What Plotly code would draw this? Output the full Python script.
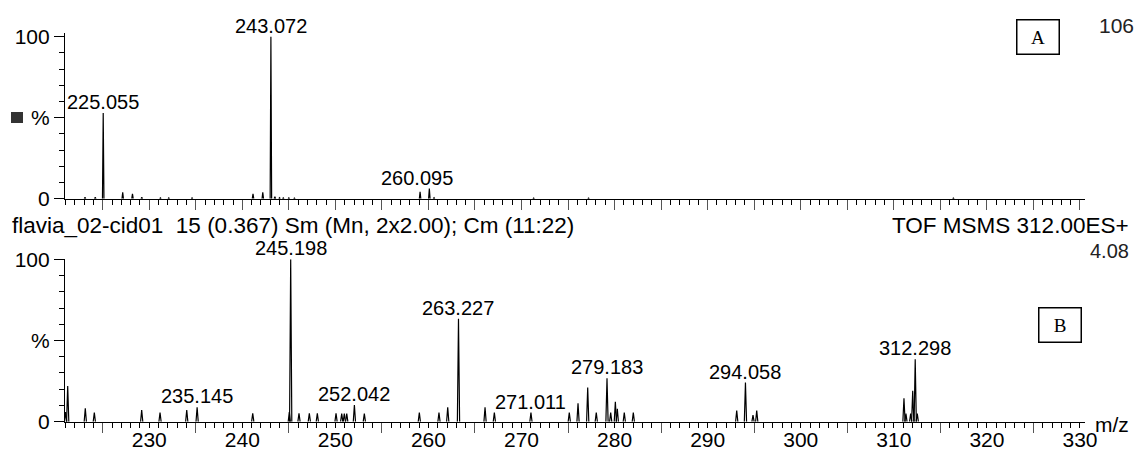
import plotly.graph_objects as go

W, H = 1142, 453
FONT = "Liberation Sans, Arial, Helvetica, sans-serif"

# shared m/z window of both spectra
MZ_RANGE = [220.95, 330.54]

# --- spectrum A (upper trace): m/z and relative intensity (%) ---
mz_a = [223.10, 224.20, 225.055, 227.15, 228.20, 229.20, 231.20, 232.10,
        234.60, 241.15, 242.20, 243.072, 243.50, 244.00, 244.40, 245.00,
        245.60, 259.10, 260.095, 260.60, 271.30, 277.20, 316.40]
int_a = [0.8, 0.8, 52.9, 3.9, 3.0, 0.8, 0.5, 0.5,
         0.5, 3.0, 3.9, 100.0, 1.2, 0.6, 0.5, 0.5,
         0.4, 4.3, 6.2, 0.6, 0.4, 0.4, 0.4]
labels_a = [225.055, 243.072, 260.095]

# --- spectrum B (lower trace) ---
mz_b = [221.02, 221.24, 223.13, 224.10, 229.19, 231.16, 234.03, 235.145,
        241.12, 245.05, 245.198, 246.09, 247.20, 248.06, 250.07, 250.68,
        250.96, 251.22, 252.042, 253.11, 259.02, 261.13, 262.07, 263.227,
        266.08, 267.08, 271.011, 275.13, 276.07, 277.11, 278.03, 279.183,
        279.58, 280.08, 280.29, 281.04, 282.01, 293.12, 294.058, 294.87,
        295.27, 311.09, 311.30, 311.81, 312.03, 312.298, 312.52]
int_b = [6.0, 22.0, 8.3, 5.6, 7.2, 5.6, 7.2, 8.9,
         5.2, 6.0, 100.0, 5.2, 5.2, 5.2, 5.2, 5.0,
         5.0, 5.0, 10.3, 5.0, 5.6, 5.6, 8.9, 63.4,
         8.9, 5.6, 5.6, 5.6, 11.3, 21.0, 5.6, 26.8,
         5.6, 12.3, 8.0, 5.6, 5.6, 6.8, 24.1, 4.0,
         6.8, 14.4, 5.0, 5.0, 19.0, 38.5, 5.0]
labels_b = [235.145, 245.198, 252.042, 263.227, 271.011, 279.183, 294.058, 312.298]

y_ticks = [0, 50, 100]
y_ticktext = ["0", "%", "100"]
x_labels = list(range(230, 331, 10))
header_left = "flavia_02-cid01\u00a0\u00a015 (0.367) Sm (Mn, 2x2.00); Cm (11:22)"
header_right = "TOF MSMS 312.00ES+"
scale_a = "106"
scale_b = "4.08"


def px_x(px):
    return px / W


def px_y(py):
    return 1 - py / H


def profile(mz, inten, hw):
    """Narrow triangular centroid profile for each peak."""
    xs, ys = [], []
    for m, h in zip(mz, inten):
        xs += [m - hw, m, m + hw, None]
        ys += [0, h, 0, None]
    return xs, ys


fig = go.Figure()
xa, ya = profile(mz_a, int_a, 0.08)
xb, yb = profile(mz_b, int_b, 0.12)
fig.add_trace(go.Scatter(x=xa, y=ya, mode="lines", xaxis="x", yaxis="y",
                         line=dict(color="black", width=1.2), hoverinfo="skip"))
fig.add_trace(go.Scatter(x=xb, y=yb, mode="lines", xaxis="x2", yaxis="y2",
                         line=dict(color="black", width=1.2), hoverinfo="skip"))

x_dom = [px_x(65), px_x(1085)]
yaxis_common = dict(
    tickmode="array", tickvals=y_ticks, ticktext=y_ticktext,
    ticks="outside", ticklen=10, tickwidth=1, tickcolor="black",
    minor=dict(dtick=10, tick0=0, ticks="outside", ticklen=5, tickcolor="black", tickwidth=1),
    showline=True, linecolor="black", linewidth=1.2,
    showgrid=False, zeroline=False, automargin=False,
    tickfont=dict(family=FONT, size=21, color="black"),
    fixedrange=True,
)
fig.update_layout(
    width=W, height=H,
    margin=dict(l=0, r=0, t=0, b=0),
    paper_bgcolor="white", plot_bgcolor="white",
    showlegend=False,
    font=dict(family=FONT, size=20, color="black"),
    xaxis=dict(domain=x_dom, anchor="y", range=MZ_RANGE,
               tick0=0, dtick=5, ticks="outside", ticklen=10, tickcolor="#555", tickwidth=1,
               minor=dict(dtick=1, tick0=0, ticks="outside", ticklen=5, tickcolor="black", tickwidth=1),
               showticklabels=False, showline=True, linecolor="black", linewidth=1.2,
               showgrid=False, zeroline=False, automargin=False),
    yaxis=dict(domain=[px_y(198.7), px_y(33.1)], anchor="x", range=[0, 102.2], **yaxis_common),
    xaxis2=dict(domain=x_dom, anchor="y2", range=MZ_RANGE,
                tickmode="array", tickvals=[v - 5 for v in x_labels],
                ticks="outside", ticklen=10, tickcolor="#555", tickwidth=1,
                minor=dict(dtick=1, tick0=0, ticks="outside", ticklen=5, tickcolor="black", tickwidth=1),
                showticklabels=False, showline=True, linecolor="black", linewidth=1.2,
                showgrid=False, zeroline=False, automargin=False),
    xaxis3=dict(domain=x_dom, anchor="y2", overlaying="x2", range=MZ_RANGE,
                tickmode="array", tickvals=x_labels, ticktext=[str(v) for v in x_labels],
                ticks="outside", ticklen=5, tickcolor="black", tickwidth=1,
                ticklabelstandoff=-6,
                tickfont=dict(family=FONT, size=21, color="black"),
                showline=False, showgrid=False, zeroline=False, automargin=False),
    yaxis2=dict(domain=[px_y(421.7), px_y(259.3)], anchor="x2", range=[0, 100], **yaxis_common),
)
# invisible trace so the overlay axis is rendered
fig.add_trace(go.Scatter(x=[MZ_RANGE[0]], y=[0], xaxis="x3", yaxis="y2", mode="markers",
                         marker=dict(opacity=0), hoverinfo="skip"))

# peak m/z labels
for lst, mz, inten, xr, yr in [(labels_a, mz_a, int_a, "x", "y"),
                               (labels_b, mz_b, int_b, "x2", "y2")]:
    for m in lst:
        h = inten[mz.index(m)]
        fig.add_annotation(x=m, y=h, xref=xr, yref=yr, text=f"{m:.3f}",
                           showarrow=False, xanchor="center", yanchor="bottom",
                           xshift=-12 if m == 260.095 else 0, yshift=-2,
                           font=dict(family=FONT, size=20, color="black"))

# header and scale texts
fig.add_annotation(x=px_x(10), y=px_y(225), xref="paper", yref="paper", text=header_left,
                   showarrow=False, xanchor="left", yanchor="middle",
                   font=dict(size=22.5))
fig.add_annotation(x=px_x(1131), y=px_y(225), xref="paper", yref="paper", text=header_right,
                   showarrow=False, xanchor="right", yanchor="middle",
                   font=dict(size=22.5))
fig.add_annotation(x=px_x(1131), y=px_y(251), xref="paper", yref="paper", text=scale_b,
                   showarrow=False, xanchor="right", yanchor="middle", font=dict(color="#222"))
fig.add_annotation(x=px_x(1136), y=px_y(26), xref="paper", yref="paper", text=scale_a,
                   showarrow=False, xanchor="right", yanchor="middle", font=dict(color="#222", size=21))
fig.add_annotation(x=px_x(1131), y=px_y(424), xref="paper", yref="paper", text="m/z",
                   showarrow=False, xanchor="right", yanchor="middle", font=dict(size=21))

# panel tags
for tag, cx, cy in [("A", 1038.3, 37.2), ("B", 1060.0, 324.5)]:
    fig.add_annotation(x=px_x(cx), y=px_y(cy), xref="paper", yref="paper", text=tag,
                       showarrow=False, xanchor="center", yanchor="middle",
                       width=41, height=33, borderpad=0, bordercolor="black", borderwidth=1.5,
                       font=dict(family="Liberation Serif, Times New Roman, serif", size=19, color="black"))

# small filled square next to the upper intensity axis
fig.add_shape(type="rect", xref="paper", yref="paper",
              x0=px_x(11), x1=px_x(23), y0=px_y(123), y1=px_y(112),
              fillcolor="#333", line=dict(width=0))

fig.write_html("out.html")
